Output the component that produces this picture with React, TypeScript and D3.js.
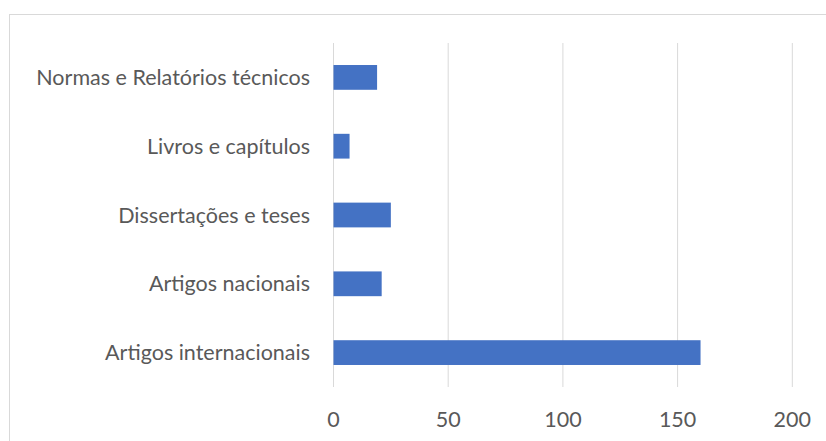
import React from "react";
import * as d3 from "d3";

const categories = [
  "Normas e Relatórios técnicos",
  "Livros e capítulos",
  "Dissertações e teses",
  "Artigos nacionais",
  "Artigos internacionais",
];
const values = [19, 7, 25, 21, 160];
const xTicks = [0, 50, 100, 150, 200];

export default function App() {
  const W = 826, H = 441;
  const plotLeft = 333.5, plotRight = 792.3, plotTop = 43, plotBottom = 387;
  const x = d3.scaleLinear().domain([0, 200]).range([plotLeft, plotRight]);
  const y = d3.scaleBand().domain(categories).range([plotTop, plotBottom]).paddingInner(0.64).paddingOuter(0.32);
  const font = "Lato, 'Open Sans', sans-serif";
  const fs = 21.5;
  return (
    <svg width={W} height={H} style={{ position: "absolute", left: 0, top: 0, background: "#fff" }}>
      <rect x={9.5} y={14.5} width={W + 10} height={H + 10} fill="#fff" stroke="#d9d9d9" strokeWidth={1} />
      {xTicks.map((t) => (
        <line key={t} x1={x(t)} x2={x(t)} y1={plotTop} y2={plotBottom} stroke="#d9d9d9" strokeWidth={1} />
      ))}
      {categories.map((c, i) => (
        <rect key={c} x={x(0)} y={y(c)!} width={x(values[i]) - x(0)} height={y.bandwidth()} fill="#4472c4" />
      ))}
      {categories.map((c) => (
        <text key={c} x={310} y={y(c)! + y.bandwidth() / 2} dy="0.35em" textAnchor="end" fontFamily={font} fontSize={fs} fill="#595959">
          {c}
        </text>
      ))}
      {xTicks.map((t) => (
        <text key={t} x={x(t)} y={427} textAnchor="middle" fontFamily={font} fontSize={fs} fill="#595959">
          {t}
        </text>
      ))}
    </svg>
  );
}
